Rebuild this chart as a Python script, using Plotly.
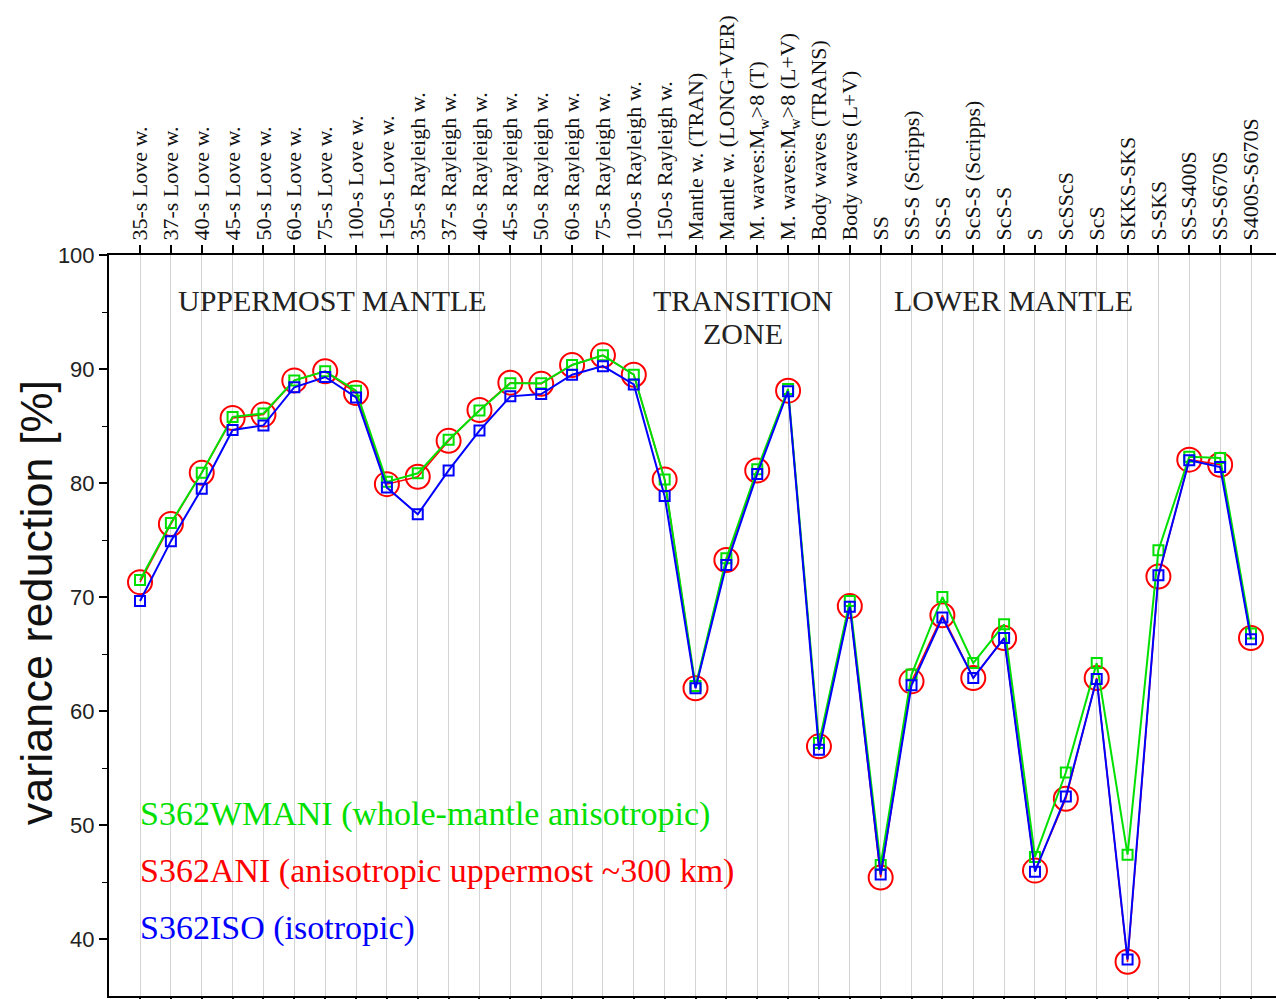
import plotly.graph_objects as go

# Data types used in the inversion (one column each)
categories = [
    "35-s Love w.", "37-s Love w.", "40-s Love w.", "45-s Love w.", "50-s Love w.",
    "60-s Love w.", "75-s Love w.", "100-s Love w.", "150-s Love w.",
    "35-s Rayleigh w.", "37-s Rayleigh w.", "40-s Rayleigh w.", "45-s Rayleigh w.",
    "50-s Rayleigh w.", "60-s Rayleigh w.", "75-s Rayleigh w.", "100-s Rayleigh w.",
    "150-s Rayleigh w.",
    "Mantle w. (TRAN)", "Mantle w. (LONG+VER)",
    "M. waves:M<sub>w</sub>&gt;8 (T)", "M. waves:M<sub>w</sub>&gt;8 (L+V)",
    "Body waves (TRANS)", "Body waves (L+V)",
    "SS", "SS-S (Scripps)", "SS-S", "ScS-S (Scripps)", "ScS-S", "S", "ScSScS", "ScS",
    "SKKS-SKS", "S-SKS", "SS-S400S", "SS-S670S", "S400S-S670S",
]

# Variance reduction [%] for each model
vr_s362wmani = [
    71.5, 76.5, 80.9, 85.8, 86.1, 89.0, 89.8, 88.1, 80.1,
    80.85, 83.8, 86.35, 88.75, 88.75, 90.35, 91.2, 89.5, 80.3,
    62.2, 73.4, 81.2, 88.25, 57.2, 69.65,
    46.5, 63.2, 70.0, 64.2, 67.6, 47.2, 54.6, 64.2, 47.4, 74.1, 82.3, 82.2, 66.8,
]
vr_s362ani = [
    71.3, 76.4, 80.9, 85.7, 86.0, 89.0, 89.8, 87.9, 79.9,
    80.55, 83.7, 86.4, 88.8, 88.7, 90.35, 91.2, 89.5, 80.3,
    62.0, 73.25, 81.1, 88.1, 56.9, 69.2,
    45.4, 62.6, 68.4, 62.9, 66.4, 46.0, 52.3, 62.9, 38.0, 71.8, 82.05, 81.6, 66.4,
]
vr_s362iso = [
    69.65, 74.9, 79.5, 84.65, 85.05, 88.4, 89.3, 87.5, 79.6,
    77.25, 81.1, 84.6, 87.6, 87.8, 89.5, 90.25, 88.65, 78.85,
    62.0, 72.8, 80.8, 88.05, 56.6, 69.15,
    45.65, 62.25, 68.2, 62.9, 66.4, 45.9, 52.5, 62.8, 38.2, 71.9, 82.0, 81.4, 66.3,
]

model_labels = [
    "S362WMANI (whole-mantle anisotropic)",
    "S362ANI (anisotropic uppermost ~300 km)",
    "S362ISO (isotropic)",
]
# Region headings: (text, x centre in category units, y centre in %)
region_labels = [
    ("UPPERMOST MANTLE", 6.25, 96.05),
    ("TRANSITION", 19.55, 96.05),
    ("ZONE", 19.55, 93.1),
    ("LOWER MANTLE", 28.3, 96.05),
]

GREEN = "#00e000"
RED = "#ff0000"
BLUE = "#0000ff"
SERIF = "Liberation Serif, Times New Roman, serif"
SANS = "Liberation Sans, Arial, sans-serif"

x = list(range(len(categories)))

fig = go.Figure()
fig.add_trace(go.Scatter(
    x=x, y=vr_s362ani, mode="lines+markers", name=model_labels[1],
    line=dict(color=RED, width=1.5),
    marker=dict(symbol="circle-open", size=24, color=RED, line=dict(width=2, color=RED)),
))
fig.add_trace(go.Scatter(
    x=x, y=vr_s362wmani, mode="lines+markers", name=model_labels[0],
    line=dict(color=GREEN, width=2),
    marker=dict(symbol="square-open", size=10, color=GREEN, line=dict(width=2, color=GREEN)),
))
fig.add_trace(go.Scatter(
    x=x, y=vr_s362iso, mode="lines+markers", name=model_labels[2],
    line=dict(color=BLUE, width=2),
    marker=dict(symbol="square-open", size=10, color=BLUE, line=dict(width=2, color=BLUE)),
))

for text, xc, yc in region_labels:
    fig.add_annotation(
        x=xc, y=yc, xref="x", yref="y", text=text, showarrow=False,
        yanchor="middle", font=dict(family=SERIF, size=30, color="#222222"),
    )

# Model legend written as coloured text
for text, color, yv in zip(model_labels, [GREEN, RED, BLUE], [51.0, 46.0, 41.0]):
    fig.add_annotation(
        x=-0.08, y=yv, xref="x", yref="y", text=text, showarrow=False,
        xanchor="left", yanchor="middle", font=dict(family=SERIF, size=34, color=color),
    )

# Y-axis title
fig.add_annotation(
    x=-0.062, y=0.531, xref="paper", yref="paper", text="variance reduction [%]",
    showarrow=False, textangle=-90, xanchor="center", yanchor="middle",
    font=dict(family=SANS, size=45, color="#111111"),
)

fig.update_xaxes(
    side="top", range=[-1.005, 36.81], automargin=False,
    tickmode="array", tickvals=x, ticktext=categories, tickangle=-90,
    tickfont=dict(family=SERIF, size=22, color="#111111"),
    ticks="outside", ticklen=8, tickwidth=2, tickcolor="black",
    showline=True, linecolor="black", linewidth=2, mirror="ticks",
    showgrid=True, gridcolor="#d4d4d4", gridwidth=1, zeroline=False,
)
fig.update_yaxes(
    range=[35.0, 100], tickvals=[40, 50, 60, 70, 80, 90, 100], automargin=False,
    tickfont=dict(family=SANS, size=22, color="#222222"),
    ticks="outside", ticklen=8, tickwidth=1.5, tickcolor="black",
    minor=dict(tickvals=[45, 55, 65, 75, 85, 95], ticks="outside", ticklen=5,
               tickwidth=1, tickcolor="black", showgrid=False),
    showline=True, linecolor="black", linewidth=2, mirror=False,
    showgrid=False, zeroline=False,
)

fig.update_layout(
    width=1276, height=999,
    margin=dict(l=109, r=0, t=255, b=3),
    paper_bgcolor="white", plot_bgcolor="white",
    showlegend=False,
)

fig.write_html("out.html")
